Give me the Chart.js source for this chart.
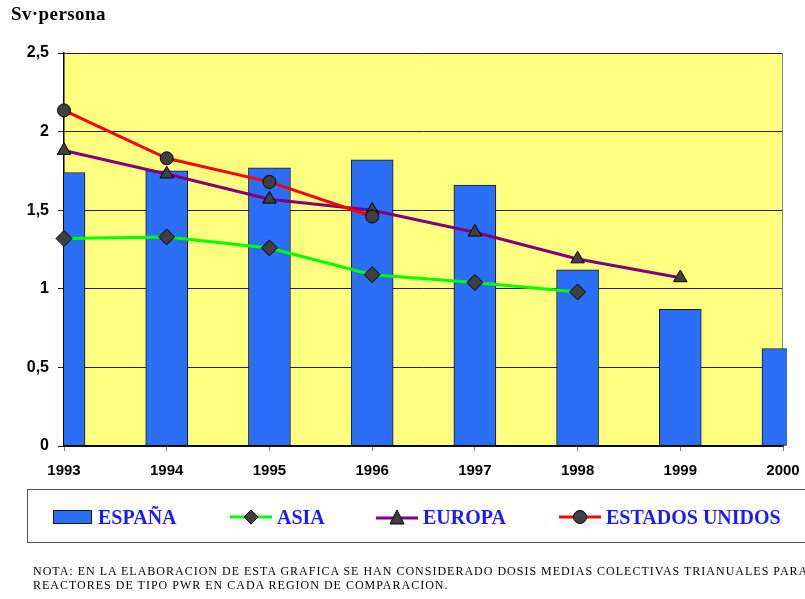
<!DOCTYPE html>
<html>
<head>
<meta charset="utf-8">
<script src="https://cdn.jsdelivr.net/npm/chart.js@4/dist/chart.umd.min.js"></script>
<style>
  html, body { margin: 0; padding: 0; background: #fff; overflow: hidden; }
  #wrap { position: relative; width: 805px; height: 599px; overflow: hidden; }
  #c { position: absolute; left: 0; top: 0; }
  #title { position: absolute; left: 11px; top: 3px; font: bold 19px "Liberation Serif", serif; letter-spacing: 0.4px; color: #000; white-space: nowrap; }
  #legend { position: absolute; left: 27px; top: 489px; width: 800px; height: 54px; border: 1.5px solid #555; box-sizing: border-box; }
  .li { position: absolute; top: 0; height: 54px; display: flex; align-items: center; font: bold 20px "Liberation Serif", serif; color: #1a1aff; white-space: nowrap; }
  .li svg { margin-right: 5px; }
  #note { position: absolute; left: 33px; top: 564px; font: 12px "Liberation Serif", serif; letter-spacing: 1px; line-height: 14px; color: #000; white-space: nowrap; }
</style>
</head>
<body>
<div id="wrap">
  <canvas id="c" width="805" height="599"></canvas>
  <div id="title">Sv·persona</div>
  <div id="legend"></div>
  <div id="note"></div>
</div>
<script>
const years = ['1993', '1994', '1995', '1996', '1997', '1998', '1999', '2000'];
const espana = [1.74, 1.75, 1.77, 1.82, 1.66, 1.12, 0.87, 0.62];
const asia = [1.32, 1.33, 1.26, 1.09, 1.04, 0.98, null, null];
const europa = [1.88, 1.73, 1.57, 1.50, 1.36, 1.19, 1.07, null];
const eeuu = [2.135, 1.83, 1.68, 1.46, null, null, null, null];
const seriesNames = ['ESPAÑA', 'ASIA', 'EUROPA', 'ESTADOS UNIDOS'];
const noteLines = [
  'NOTA: EN LA ELABORACION DE ESTA GRAFICA SE HAN CONSIDERADO DOSIS MEDIAS COLECTIVAS TRIANUALES PARA',
  'REACTORES DE TIPO PWR EN CADA REGION DE COMPARACION.'
];

const plotBg = {
  id: 'plotBg',
  beforeDraw(chart) {
    const a = chart.chartArea, ctx = chart.ctx;
    ctx.save();
    ctx.fillStyle = '#FFFF80';
    ctx.fillRect(a.left, a.top, a.right - a.left, a.bottom - a.top);
    ctx.restore();
  },
  beforeDatasetsDraw(chart) {
    const a = chart.chartArea, ctx = chart.ctx;
    ctx.save();
    ctx.strokeStyle = '#808080';
    ctx.lineWidth = 1;
    ctx.beginPath();
    ctx.moveTo(a.right - 0.5, a.top);
    ctx.lineTo(a.right - 0.5, a.bottom);
    ctx.stroke();
    ctx.restore();
  }
};

const markerFill = '#404040';
new Chart(document.getElementById('c'), {
  data: {
    labels: years,
    datasets: [
      { type: 'line', label: seriesNames[3], data: eeuu, borderColor: '#FF0000', borderWidth: 3,
        pointStyle: 'circle', pointRadius: 6.5, pointBackgroundColor: markerFill, pointBorderColor: '#000', pointBorderWidth: 1,
        tension: 0, clip: 10, order: 1 },
      { type: 'line', label: seriesNames[2], data: europa, borderColor: '#800080', borderWidth: 3,
        pointStyle: 'triangle', pointRadius: 7.8, pointBackgroundColor: markerFill, pointBorderColor: '#000', pointBorderWidth: 1,
        tension: 0, clip: 10, order: 2 },
      { type: 'line', label: seriesNames[1], data: asia, borderColor: '#00FF00', borderWidth: 3,
        pointStyle: 'rectRot', pointRadius: 8, pointBackgroundColor: markerFill, pointBorderColor: '#000', pointBorderWidth: 1,
        tension: 0, clip: 10, order: 3 },
      { type: 'bar', label: seriesNames[0], data: espana, backgroundColor: '#2B6FF6', borderColor: '#1a1a1a',
        borderWidth: 1, borderSkipped: false, barThickness: 42, clip: { left: 0, top: false, right: 4, bottom: 0 }, order: 4 }
    ]
  },
  options: {
    responsive: false,
    animation: false,
    layout: { padding: { left: 0, top: 53, right: 22, bottom: 113 } },
    plugins: { legend: { display: false }, tooltip: { enabled: false }, title: { display: false } },
    scales: {
      x: {
        type: 'category',
        offset: false,
        grid: { offset: false, drawOnChartArea: false, drawTicks: true, tickLength: 5, color: '#808080' },
        border: { display: true, color: '#000', width: 1.5 },
        ticks: { autoSkip: false, maxRotation: 0, color: '#000', padding: 11,
                 font: { family: '"Liberation Sans", Arial, sans-serif', size: 15, weight: 'bold' } },
        afterFit(s) { s.height = 40; s.paddingLeft = 0; s.paddingRight = 0; }
      },
      y: {
        min: 0, max: 2.5,
        ticks: { stepSize: 0.5, color: '#000', padding: 9,
                 font: { family: '"Liberation Sans", Arial, sans-serif', size: 16, weight: 'bold' },
                 callback: v => String(v).replace('.', ',') },
        grid: { color: '#222', lineWidth: 1, tickLength: 6, drawTicks: true },
        border: { display: true, color: '#000', width: 1.5 },
        afterFit(s) { s.width = 64; s.paddingTop = 0; s.paddingBottom = 0; }
      }
    }
  },
  plugins: [plotBg]
});

// Legend (HTML)
const legendEl = document.getElementById('legend');
const symbols = [
  '<svg width="40" height="16"><rect x="0.5" y="1.5" width="38" height="13" fill="#2B6FF6" stroke="#1a1a1a"/></svg>',
  '<svg width="42" height="18"><line x1="0" y1="9" x2="42" y2="9" stroke="#00FF00" stroke-width="3"/><polygon points="21,2 28,9 21,16 14,9" fill="#404040" stroke="#000"/></svg>',
  '<svg width="42" height="18"><line x1="0" y1="10" x2="42" y2="10" stroke="#800080" stroke-width="3"/><polygon points="21,2 28,16 14,16" fill="#404040" stroke="#000"/></svg>',
  '<svg width="42" height="18"><line x1="0" y1="9" x2="42" y2="9" stroke="#FF0000" stroke-width="3"/><circle cx="21" cy="9" r="6.5" fill="#404040" stroke="#000"/></svg>'
];
const legendX = [25, 202, 348, 531];
seriesNames.forEach((n, i) => {
  const d = document.createElement('div');
  d.className = 'li';
  d.style.left = legendX[i] + 'px';
  d.innerHTML = symbols[i];
  d.appendChild(document.createTextNode(n));
  legendEl.appendChild(d);
});
const noteEl = document.getElementById('note');
noteLines.forEach(t => { const d = document.createElement('div'); d.textContent = t; noteEl.appendChild(d); });
</script>
</body>
</html>
